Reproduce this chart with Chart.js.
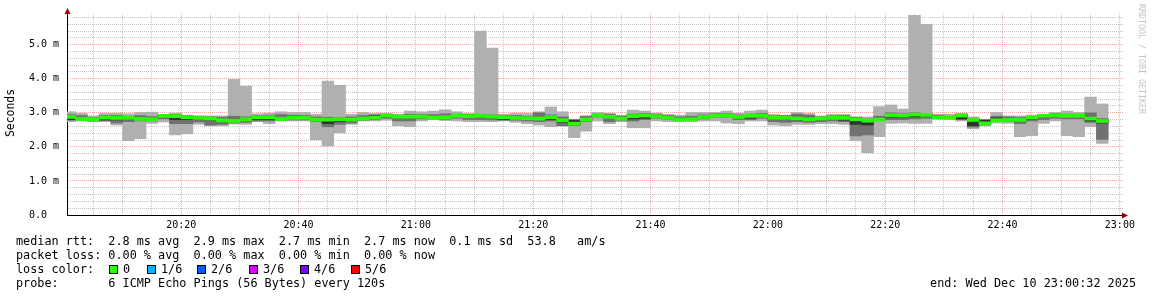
<!DOCTYPE html>
<html>
<head>
<meta charset="utf-8">
<script src="https://cdn.jsdelivr.net/npm/chart.js@4.4.1/dist/chart.umd.min.js"></script>
<style>
  html, body { margin: 0; padding: 0; background: #fff; }
  #wrap { position: relative; width: 1152px; height: 297px; overflow: hidden;
          font-family: 'DejaVu Sans Mono', monospace; color: #000; }
  #chart { position: absolute; left: 0; top: 0; }
  .txt { position: absolute; white-space: pre; font-size: 11.8px; line-height: 14px; }
  .swatch { position: absolute; width: 7px; height: 7px; border: 1px solid #000; top: 265px; }
  #unit { position: absolute; left: 10px; top: 113px; font-size: 11.4px;
          transform: translate(-50%, -50%) rotate(-90deg); white-space: nowrap; }
  #mark { position: absolute; left: 1137px; top: 4px; font-size: 8.3px; color: #c4c4c4;
          writing-mode: vertical-rl; white-space: nowrap; }
</style>
</head>
<body>
<div id="wrap">
  <canvas id="chart" width="1152" height="297"></canvas>
  <div id="unit">Seconds</div>
  <div id="mark">RRDTOOL / TOBI OETIKER</div>
  <div class="txt" style="left:16px;top:234px">median rtt:  2.8 ms avg  2.9 ms max  2.7 ms min  2.7 ms now  0.1 ms sd  53.8   am/s</div>
  <div class="txt" style="left:16px;top:248px">packet loss: 0.00 % avg  0.00 % max  0.00 % min  0.00 % now</div>
  <div class="txt" style="left:16px;top:262px">loss color:</div>
  <div id="losslegend"></div>
  <div class="txt" style="left:16px;top:276px">probe:       6 ICMP Echo Pings (56 Bytes) every 120s</div>
  <div class="txt" style="right:16px;top:276px">end: Wed Dec 10 23:00:32 2025</div>
</div>
<script>
// SmokePing style latency graph, 6 pings every 2 minutes, values in ms
// x axis is minutes after 20:00, window is 20:00:32 .. 23:00:32
const viewStart = 0.533;
const viewEnd = 180.533;
const binMinutes = 2;

const xTickMinutes = [20, 40, 60, 80, 100, 120, 140, 160, 180];
const xTickLabels = ['20:20', '20:40', '21:00', '21:20', '21:40', '22:00', '22:20', '22:40', '23:00'];
const yTickValues = [0, 1, 2, 3, 4, 5];
const yTickLabels = ['0.0  ', '1.0 m', '2.0 m', '3.0 m', '4.0 m', '5.0 m'];

const lossLabels = ['0', '1/6', '2/6', '3/6', '4/6', '5/6'];
const lossColors = ['#26ff00', '#00b8ff', '#0059ff', '#dd00ff', '#7e00ff', '#ff0000'];

// sorted pings per 2 min bin (first bin starts 20:00)
const rttMin = [2.74, 2.76, 2.74, 2.74, 2.64, 2.18, 2.24, 2.69, 2.73, 2.35,
  2.38, 2.66, 2.62, 2.62, 2.67, 2.66, 2.74, 2.68, 2.76, 2.76,
  2.76, 2.21, 2.03, 2.41, 2.66, 2.76, 2.76, 2.78, 2.62, 2.59,
  2.76, 2.80, 2.77, 2.76, 2.74, 2.74, 2.74, 2.76, 2.72, 2.68,
  2.64, 2.59, 2.61, 2.27, 2.46, 2.76, 2.68, 2.74, 2.56, 2.56,
  2.76, 2.74, 2.74, 2.74, 2.76, 2.76, 2.70, 2.68, 2.76, 2.76,
  2.64, 2.62, 2.66, 2.66, 2.68, 2.68, 2.66, 2.18, 1.83, 2.30,
  2.69, 2.70, 2.69, 2.69, 2.82, 2.81, 2.76, 2.53, 2.62, 2.70,
  2.69, 2.30, 2.33, 2.69, 2.76, 2.33, 2.30, 2.59, 2.10];
const rttP2 = [2.78, 2.79, 2.76, 2.77, 2.70, 2.74, 2.76, 2.76, 2.82, 2.68,
  2.68, 2.73, 2.64, 2.66, 2.70, 2.72, 2.76, 2.76, 2.78, 2.79,
  2.79, 2.74, 2.59, 2.66, 2.70, 2.78, 2.80, 2.84, 2.76, 2.76,
  2.82, 2.82, 2.81, 2.84, 2.80, 2.80, 2.79, 2.78, 2.78, 2.76,
  2.74, 2.76, 2.62, 2.62, 2.74, 2.86, 2.74, 2.78, 2.76, 2.80,
  2.84, 2.80, 2.78, 2.78, 2.82, 2.86, 2.86, 2.80, 2.80, 2.84,
  2.74, 2.72, 2.74, 2.72, 2.74, 2.76, 2.74, 2.32, 2.35, 2.77,
  2.80, 2.80, 2.82, 2.84, 2.84, 2.83, 2.80, 2.58, 2.64, 2.75,
  2.74, 2.68, 2.76, 2.80, 2.84, 2.82, 2.82, 2.72, 2.22];
const rttP3 = [2.80, 2.80, 2.78, 2.79, 2.79, 2.80, 2.80, 2.79, 2.88, 2.80,
  2.80, 2.80, 2.78, 2.75, 2.76, 2.78, 2.80, 2.80, 2.80, 2.82,
  2.81, 2.79, 2.68, 2.74, 2.76, 2.80, 2.85, 2.88, 2.86, 2.86,
  2.86, 2.84, 2.84, 2.88, 2.86, 2.88, 2.86, 2.80, 2.82, 2.81,
  2.80, 2.80, 2.72, 2.66, 2.78, 2.89, 2.84, 2.81, 2.82, 2.84,
  2.88, 2.83, 2.79, 2.80, 2.86, 2.89, 2.89, 2.85, 2.84, 2.88,
  2.80, 2.80, 2.78, 2.79, 2.79, 2.82, 2.78, 2.66, 2.64, 2.79,
  2.87, 2.88, 2.88, 2.90, 2.86, 2.84, 2.82, 2.62, 2.66, 2.76,
  2.77, 2.76, 2.80, 2.86, 2.88, 2.88, 2.88, 2.76, 2.70];
const rttMedian = [2.88, 2.82, 2.81, 2.86, 2.85, 2.85, 2.82, 2.81, 2.91, 2.90,
  2.87, 2.85, 2.83, 2.78, 2.76, 2.81, 2.87, 2.87, 2.82, 2.85,
  2.85, 2.80, 2.80, 2.81, 2.80, 2.83, 2.86, 2.92, 2.89, 2.89,
  2.89, 2.86, 2.87, 2.91, 2.90, 2.91, 2.89, 2.87, 2.85, 2.84,
  2.83, 2.87, 2.78, 2.68, 2.80, 2.91, 2.88, 2.83, 2.90, 2.92,
  2.90, 2.85, 2.80, 2.81, 2.88, 2.91, 2.91, 2.88, 2.91, 2.91,
  2.85, 2.85, 2.83, 2.81, 2.83, 2.85, 2.85, 2.81, 2.77, 2.80,
  2.93, 2.93, 2.95, 2.94, 2.86, 2.85, 2.92, 2.79, 2.69, 2.78,
  2.79, 2.79, 2.86, 2.91, 2.92, 2.91, 2.91, 2.83, 2.76];
const rttP4 = [2.90, 2.85, 2.83, 2.88, 2.87, 2.87, 2.84, 2.84, 2.93, 2.92,
  2.89, 2.87, 2.85, 2.80, 2.79, 2.84, 2.89, 2.89, 2.85, 2.88,
  2.88, 2.83, 2.82, 2.83, 2.82, 2.86, 2.92, 2.94, 2.91, 2.91,
  2.91, 2.89, 2.90, 2.93, 2.92, 2.93, 2.91, 2.89, 2.88, 2.87,
  2.86, 2.89, 2.80, 2.78, 2.83, 2.93, 2.90, 2.86, 2.92, 2.94,
  2.92, 2.88, 2.83, 2.84, 2.90, 2.94, 2.93, 2.90, 2.93, 2.93,
  2.87, 2.87, 2.85, 2.84, 2.85, 2.87, 2.87, 2.85, 2.80, 2.83,
  2.95, 2.95, 2.97, 2.96, 2.89, 2.87, 2.94, 2.80, 2.78, 2.85,
  2.82, 2.81, 2.88, 2.93, 2.94, 2.93, 2.93, 2.86, 2.79];
const rttP5 = [2.95, 2.92, 2.86, 2.92, 2.92, 2.89, 2.92, 2.89, 2.93, 2.95,
  2.91, 2.90, 2.88, 2.87, 2.90, 2.88, 2.92, 2.93, 2.95, 2.93,
  2.92, 2.88, 2.87, 2.86, 2.88, 2.92, 2.94, 2.96, 2.93, 2.96,
  2.95, 2.95, 2.97, 2.96, 2.95, 2.96, 2.94, 2.92, 2.92, 2.90,
  3.00, 2.94, 2.88, 2.80, 2.90, 2.96, 2.95, 2.90, 2.96, 2.98,
  2.96, 2.92, 2.88, 2.90, 2.94, 2.97, 2.97, 2.94, 2.96, 2.98,
  2.91, 2.92, 2.96, 2.93, 2.88, 2.91, 2.92, 2.87, 2.82, 2.90,
  3.00, 2.99, 3.00, 2.98, 2.92, 2.90, 2.96, 2.84, 2.80, 2.90,
  2.88, 2.86, 2.90, 2.95, 2.97, 2.96, 2.96, 3.00, 2.83];
const rttMax = [3.03, 2.99, 2.91, 2.98, 2.99, 2.97, 3.01, 3.02, 2.94, 2.99,
  2.93, 2.91, 2.91, 2.91, 3.98, 3.78, 2.97, 2.99, 3.03, 3.01,
  3.01, 2.96, 3.93, 3.81, 2.96, 3.01, 2.98, 2.98, 2.96, 3.05,
  3.03, 3.05, 3.09, 3.03, 2.98, 5.40, 4.90, 2.96, 2.98, 2.98,
  3.03, 3.17, 3.03, 2.81, 2.91, 3.01, 2.99, 2.93, 3.08, 3.05,
  2.99, 2.95, 2.93, 3.01, 3.01, 3.01, 3.05, 2.99, 3.05, 3.08,
  2.95, 2.93, 3.01, 2.98, 2.91, 2.95, 2.95, 2.88, 2.88, 3.18,
  3.23, 3.11, 5.86, 5.60, 2.96, 2.96, 2.98, 2.88, 2.81, 3.01,
  2.91, 2.91, 2.93, 2.96, 3.01, 3.05, 3.01, 3.46, 3.26];

const font = "'DejaVu Sans Mono', monospace";
const medianHalf = 0.045; // half height of the median bar, in ms
const binCenters = rttMedian.map((_, i) => i * binMinutes + binMinutes / 2);

function band(lo, hi) {
    return binCenters.map((x, i) => ({ x: x, y: [lo[i], hi[i]] }));
}

function smoke(data, color, order) {
    return {
        data: data,
        backgroundColor: color,
        borderWidth: 0,
        grouped: false,
        barPercentage: 1,
        categoryPercentage: 1,
        order: order,
    };
}

const medianBar = binCenters.map((x, i) => ({ x: x, y: [rttMedian[i] - medianHalf, rttMedian[i] + medianHalf] }));

// Arrow heads and axis extensions like rrdtool
const axisArrows = {
    id: 'axisArrows',
    afterDraw(chart) {
        const { ctx, chartArea: a } = chart;
        const x0 = Math.round(a.left) + 0.5;
        const y0 = Math.round(a.bottom) + 0.5;
        ctx.save();
        ctx.strokeStyle = '#000';
        ctx.lineWidth = 1;
        ctx.beginPath();
        ctx.moveTo(x0, a.top);
        ctx.lineTo(x0, a.top - 3);
        ctx.moveTo(a.right, y0);
        ctx.lineTo(a.right + 2, y0);
        ctx.stroke();
        ctx.fillStyle = '#a00000';
        ctx.beginPath();
        ctx.moveTo(x0, a.top - 6);
        ctx.lineTo(x0 - 3, a.top);
        ctx.lineTo(x0 + 3, a.top);
        ctx.closePath();
        ctx.fill();
        ctx.beginPath();
        ctx.moveTo(a.right + 5, y0);
        ctx.lineTo(a.right - 1, y0 - 3);
        ctx.lineTo(a.right - 1, y0 + 3);
        ctx.closePath();
        ctx.fill();
        ctx.restore();
    }
};

const minorColor = 'rgba(140,140,140,0.5)';
const majorColor = 'rgba(220,100,100,0.55)';

new Chart(document.getElementById('chart').getContext('2d'), {
    type: 'bar',
    data: {
        datasets: [
            smoke(medianBar, lossColors[0], 0),
            smoke(band(rttP3, rttP4), '#323232', 1),
            smoke(band(rttP2, rttP5), '#717171', 2),
            smoke(band(rttMin, rttMax), '#b0b0b0', 3),
        ]
    },
    options: {
        responsive: false,
        animation: false,
        events: [],
        layout: { padding: { left: 0, top: 13, right: 29, bottom: 62 } },
        plugins: { legend: { display: false }, tooltip: { enabled: false } },
        scales: {
            x: {
                type: 'linear',
                offset: false,
                min: viewStart,
                max: viewEnd,
                afterFit: (s) => { s.height = 20; },
                afterBuildTicks: (s) => {
                    const t = [];
                    for (let v = 5; v <= 180; v += 5) t.push({ value: v });
                    s.ticks = t;
                },
                grid: {
                    offset: false,
                    drawTicks: false,
                    lineWidth: 1,
                    color: (c) => xTickMinutes.includes(c.tick && c.tick.value) ? majorColor : minorColor,
                },
                border: { display: true, color: '#000', width: 1, dash: [1, 1] },
                ticks: {
                    autoSkip: false,
                    maxRotation: 0,
                    padding: 4,
                    color: '#000',
                    font: { family: font, size: 10 },
                    callback: (v) => {
                        const k = xTickMinutes.indexOf(v);
                        return k >= 0 ? xTickLabels[k] : '';
                    }
                }
            },
            y: {
                min: 0,
                max: 5.9,
                afterFit: (s) => { s.width = 67; },
                afterBuildTicks: (s) => {
                    const t = [];
                    for (let k = 0; k <= 29; k++) t.push({ value: Math.round(k * 2) / 10 });
                    s.ticks = t;
                },
                grid: {
                    drawTicks: false,
                    lineWidth: 1,
                    color: (c) => {
                        const v = c.tick ? c.tick.value : 0.5;
                        return yTickValues.includes(v) ? majorColor : minorColor;
                    },
                },
                border: { display: true, color: '#000', width: 1, dash: [1, 1] },
                ticks: {
                    autoSkip: false,
                    padding: 8,
                    color: '#000',
                    font: { family: font, size: 10 },
                    callback: (v) => {
                        const k = yTickValues.indexOf(v);
                        return k >= 0 ? yTickLabels[k] : '';
                    }
                }
            }
        }
    },
    plugins: [axisArrows]
});

// loss colour legend boxes
const swatchX = [109, 147, 197, 249, 300, 351];
const lossBox = document.getElementById('losslegend');
lossLabels.forEach((lab, i) => {
    const sw = document.createElement('div');
    sw.className = 'swatch';
    sw.style.left = swatchX[i] + 'px';
    sw.style.background = lossColors[i];
    lossBox.appendChild(sw);
    const t = document.createElement('div');
    t.className = 'txt';
    t.style.left = (swatchX[i] + 14) + 'px';
    t.style.top = '262px';
    t.textContent = lab;
    lossBox.appendChild(t);
});
</script>
</body>
</html>
